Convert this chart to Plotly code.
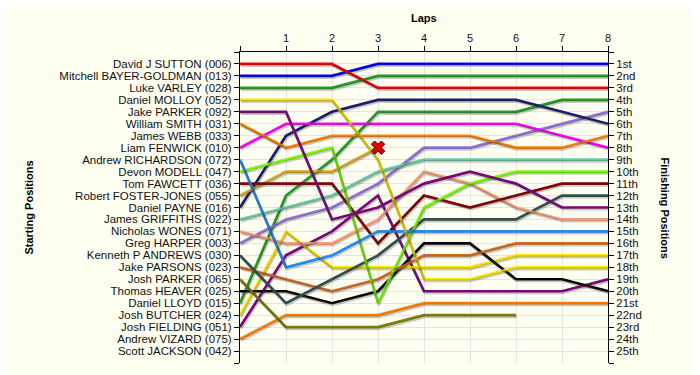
import plotly.graph_objects as go

laps = [0, 1, 2, 3, 4, 5, 6, 7, 8]

drivers = [
    "David J SUTTON (006)", "Mitchell BAYER-GOLDMAN (013)", "Luke VARLEY (028)",
    "Daniel MOLLOY (052)", "Jake PARKER (092)", "William SMITH (031)",
    "James WEBB (033)", "Liam FENWICK (010)", "Andrew RICHARDSON (072)",
    "Devon MODELL (047)", "Tom FAWCETT (036)", "Robert FOSTER-JONES (055)",
    "Daniel PAYNE (016)", "James GRIFFITHS (022)", "Nicholas WONES (071)",
    "Greg HARPER (003)", "Kenneth P ANDREWS (030)", "Jake PARSONS (023)",
    "Josh PARKER (065)", "Thomas HEAVER (025)", "Daniel LLOYD (015)",
    "Josh BUTCHER (024)", "Josh FIELDING (051)", "Andrew VIZARD (075)",
    "Scott JACKSON (042)",
]

finish_labels = ["1st", "2nd", "3rd", "4th", "5th", "6th", "7th", "8th", "9th", "10th",
                 "11th", "12th", "13th", "14th", "15th", "16th", "17th", "18th", "19th",
                 "20th", "21st", "22nd", "23rd", "24th", "25th"]

N = None
pos_sutton = [1, 1, 1, 3, 3, 3, 3, 3, 3]
pos_bayer = [2, 2, 2, 1, 1, 1, 1, 1, 1]
pos_varley = [3, 3, 3, 2, 2, 2, 2, 2, 2]
pos_molloy = [4, 4, 4, 9, 19, 19, 18, 18, 18]
pos_jparker = [5, 5, 14, 13, 11, 10, 11, 13, 13]
pos_smith = [6, 8, 7, 7, 7, 7, 8, 8, 7]
pos_webb = [N, N, N, N, N, N, N, N, N]
pos_fenwick = [8, 6, 6, 6, 6, 6, 6, 7, 8]
pos_richardson = [9, 18, 17, 15, 15, 15, 15, 15, 15]
pos_modell = [10, 9, 8, 21, 13, 11, 10, 10, 10]
pos_fawcett = [11, 11, 11, 16, 12, 13, 12, 11, 11]
pos_fosterjones = [12, 10, 10, 8, N, N, N, N, N]
pos_payne = [13, 7, 5, 4, 4, 4, 4, 5, 6]
pos_griffiths = [14, 13, 12, 10, 9, 9, 9, 9, 9]
pos_wones = [15, 16, 16, 14, 10, 11, 13, 14, 14]
pos_harper = [16, 14, 13, 11, 8, 8, 7, 6, 5]
pos_andrews = [17, 21, 19, 17, 14, 14, 14, 12, 12]
pos_parsons = [18, 19, 20, 19, 17, 17, 16, 16, 16]
pos_josh_parker = [19, 23, 23, 23, 22, 22, 22, N, N]
pos_heaver = [20, 20, 21, 20, 16, 16, 19, 19, 20]
pos_lloyd = [21, 12, 9, 5, 5, 5, 5, 4, 4]
pos_butcher = [22, 15, 18, 18, 18, 18, 17, 17, 17]
pos_fielding = [23, 17, 15, 12, 20, 20, 20, 20, 19]
pos_vizard = [24, 22, 22, 22, 21, 21, 21, 21, 21]
pos_jackson = [N, N, N, N, N, N, N, N, N]

retired_lap = [3]
retired_pos = [8]

all_positions = [pos_sutton, pos_bayer, pos_varley, pos_molloy, pos_jparker, pos_smith,
                 pos_webb, pos_fenwick, pos_richardson, pos_modell, pos_fawcett,
                 pos_fosterjones, pos_payne, pos_griffiths, pos_wones, pos_harper,
                 pos_andrews, pos_parsons, pos_josh_parker, pos_heaver, pos_lloyd,
                 pos_butcher, pos_fielding, pos_vizard, pos_jackson]

colors = ["#F00000", "#0000F0", "#1FA01F", "#FFE600", "#800080", "#FF8000",
          "#C0C0C0", "#FF00FF", "#1E90FF", "#7CFC00", "#800000", "#DAA520",
          "#191970", "#66CDAA", "#FFA07A", "#9370DB", "#2F4F4F", "#D2691E",
          "#808000", "#000000", "#1FA01F", "#FFE600", "#800080", "#FF8000", "#C0C0C0"]

BG = "#FFFFF2"
FONT = "Liberation Sans, Arial, sans-serif"

fig = go.Figure()
# soft drop shadows, drawn on a slightly offset invisible axis pair
for p in reversed(all_positions):
    fig.add_trace(go.Scatter(x=laps, y=p, mode="lines", xaxis="x2", yaxis="y3",
                             line=dict(color="rgba(60,60,60,0.28)", width=2.8),
                             showlegend=False, hoverinfo="skip"))
for name, p, c in reversed(list(zip(drivers, all_positions, colors))):
    fig.add_trace(go.Scatter(x=laps, y=p, mode="lines", name=name,
                             line=dict(color=c, width=2.7), showlegend=False,
                             hoverinfo="name+y"))

fig.add_trace(go.Scatter(x=retired_lap, y=retired_pos, mode="markers", showlegend=False,
                         marker=dict(symbol="x", size=12, color="#E00000",
                                     line=dict(color="#700000", width=1))))
fig.add_trace(go.Scatter(x=[0], y=[1], yaxis="y2", mode="markers",
                         marker=dict(opacity=0), showlegend=False, hoverinfo="skip"))

tick_all = list(range(0, 27))
fig.update_layout(
    width=700, height=375,
    paper_bgcolor=BG, plot_bgcolor=BG,
    margin=dict(l=232, r=100, t=44, b=20, autoexpand=False),
    font=dict(family=FONT, size=11, color="#111111"),
    xaxis=dict(range=[0, 8], side="top", tickvals=laps,
               ticktext=[""] + [str(v) for v in laps[1:]],
               showline=True, linecolor="black", linewidth=1,
               ticks="outside", ticklen=5, tickcolor="black",
               showgrid=True, gridcolor="#E4E4E4", gridwidth=1,
               zeroline=False, tickfont=dict(size=11), automargin=False),
    xaxis2=dict(range=[-0.02, 7.98], overlaying="x", visible=False),
    yaxis=dict(range=[26, 0], tickvals=tick_all,
               ticktext=[""] + drivers + [""],
               showline=True, linecolor="black", linewidth=1,
               ticks="outside", ticklen=5, tickcolor="black",
               showgrid=True, gridcolor="#E4E4E4", gridwidth=1,
               zeroline=False, tickfont=dict(size=11.5), automargin=False),
    yaxis2=dict(range=[26, 0], tickvals=tick_all, overlaying="y", side="right",
                ticktext=[""] + finish_labels + [""],
                showline=True, linecolor="black", linewidth=1,
                ticks="outside", ticklen=5, tickcolor="black",
                showgrid=False, zeroline=False, tickfont=dict(size=11.5),
                automargin=False),
    yaxis3=dict(range=[25.86, -0.14], overlaying="y", visible=False),
    annotations=[
        dict(text="<b>Laps</b>", xref="paper", yref="paper", x=0.5, y=1.109,
             xanchor="center", yanchor="middle", showarrow=False,
             font=dict(size=11, color="black")),
        dict(text="<b>Starting Positions</b>", xref="paper", yref="paper",
             x=-0.576, y=0.5, xanchor="center", yanchor="middle",
             textangle=-90, showarrow=False, font=dict(size=11, color="black")),
        dict(text="<b>Finishing Positions</b>", xref="paper", yref="paper",
             x=1.155, y=0.5, xanchor="center", yanchor="middle",
             textangle=90, showarrow=False, font=dict(size=11, color="black")),
    ],
)

fig.write_html("out.html")
